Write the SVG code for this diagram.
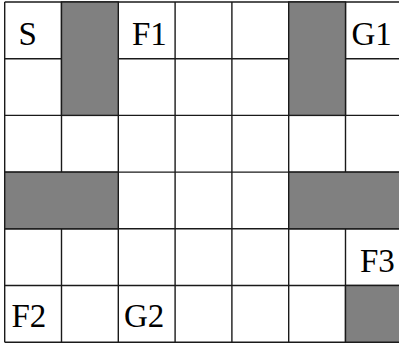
<svg xmlns="http://www.w3.org/2000/svg" width="399" height="345" viewBox="0 0 399 345">
<style>
.grid line{stroke:#1a1a1a;stroke-width:1.4}
.wall{fill:#808080;stroke:#1a1a1a;stroke-width:1.4}
.lbl{font-family:"Liberation Serif","Times New Roman",serif;font-size:33px;fill:#000}
</style>
<rect x="0" y="0" width="399" height="345" fill="#fff"/>
<g id="grid" class="grid">
<line x1="4.7" y1="2" x2="4.7" y2="342.2"/>
<line x1="61.5" y1="2" x2="61.5" y2="342.2"/>
<line x1="118.3" y1="2" x2="118.3" y2="342.2"/>
<line x1="175.1" y1="2" x2="175.1" y2="342.2"/>
<line x1="231.9" y1="2" x2="231.9" y2="342.2"/>
<line x1="288.7" y1="2" x2="288.7" y2="342.2"/>
<line x1="345.5" y1="2" x2="345.5" y2="342.2"/>
<line x1="4.7" y1="2" x2="402.3" y2="2"/>
<line x1="4.7" y1="58.7" x2="402.3" y2="58.7"/>
<line x1="4.7" y1="115.4" x2="402.3" y2="115.4"/>
<line x1="4.7" y1="172.1" x2="402.3" y2="172.1"/>
<line x1="4.7" y1="228.8" x2="402.3" y2="228.8"/>
<line x1="4.7" y1="285.5" x2="402.3" y2="285.5"/>
<line x1="4.7" y1="342.2" x2="402.3" y2="342.2"/>
</g>
<g id="walls">
<rect class="wall" x="61.5" y="2" width="56.8" height="113.4"/>
<rect class="wall" x="288.7" y="2" width="56.8" height="113.4"/>
<rect class="wall" x="4.7" y="172.1" width="113.6" height="56.7"/>
<rect class="wall" x="288.7" y="172.1" width="113.6" height="56.7"/>
<rect class="wall" x="345.5" y="285.5" width="56.8" height="56.7"/>
</g>
<g id="S"><text class="lbl" x="18.5" y="45">S</text></g>
<g id="F1"><text class="lbl" x="132" y="45">F1</text></g>
<g id="G1"><text class="lbl" x="351.5" y="45">G1</text></g>
<g id="F3"><text class="lbl" x="360" y="271.5">F3</text></g>
<g id="F2"><text class="lbl" x="11.5" y="326.5">F2</text></g>
<g id="G2"><text class="lbl" x="124" y="326.5">G2</text></g>
</svg>
